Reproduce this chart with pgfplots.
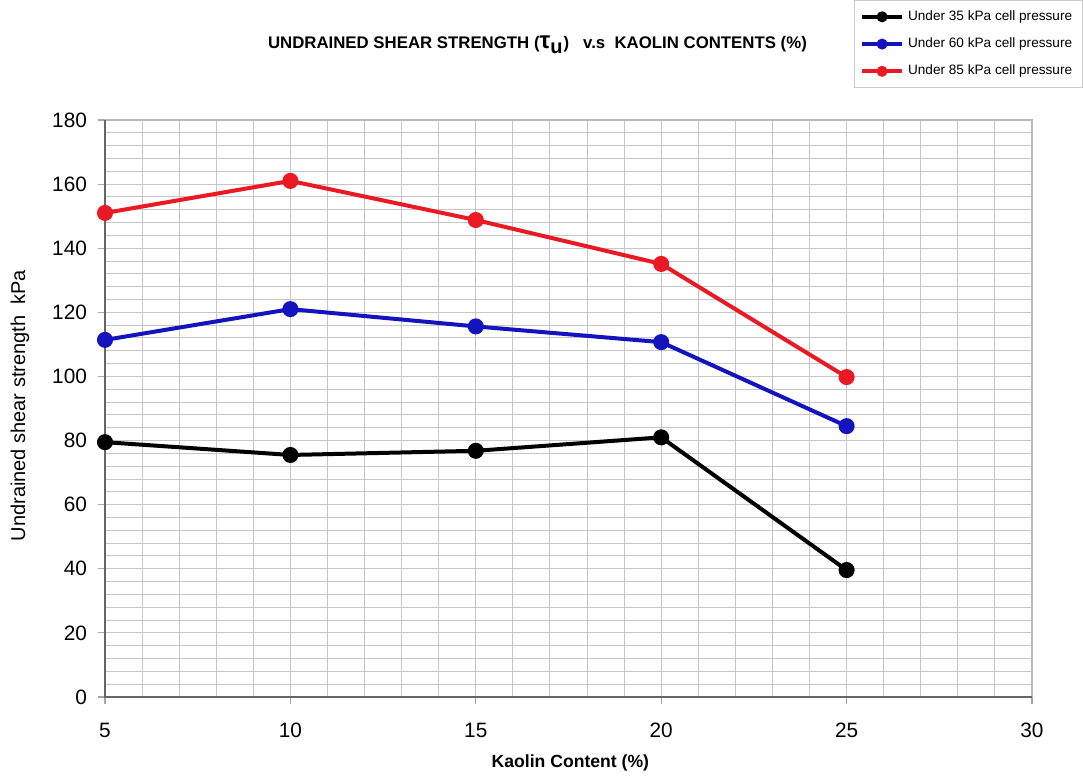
\documentclass[border=0pt]{standalone}
\usepackage{pgfplots}
\pgfplotsset{compat=1.18}
\usepackage{fontspec}
\setmainfont{Liberation Sans}
\definecolor{sred}{RGB}{235,25,35}
\definecolor{sblue}{RGB}{20,20,190}
\begin{document}
\begin{tikzpicture}
\useasboundingbox (0,0) rectangle (541.5pt,388pt);
\begin{axis}[
  at={(52.5pt,39.5pt)}, anchor=south west,
  scale only axis, width=463.5pt, height=288.5pt,
  xmin=5, xmax=30, ymin=0, ymax=180,
  xtick={5,10,15,20,25,30}, ytick={0,20,...,180},
  minor x tick num=4, minor y tick num=4,
  xtick pos=bottom, ytick pos=left,
  grid=both,
  major grid style={draw=gray!45, line width=0.5pt},
  minor grid style={draw=gray!45, line width=0.5pt},
  axis line style={draw=gray!55, line width=0.6pt},
  tick align=outside, major tick length=3.5pt, minor tick length=0pt,
  tick style={draw=gray!70, line width=0.6pt},
  ticklabel style={font=\fontsize{10.4}{12}\selectfont},
  xticklabel style={yshift=-6pt},
  yticklabel style={xshift=-2pt},
  /pgf/number format/assume math mode=true,
  xlabel={\textbf{Kaolin Content (\%)}},
  xlabel style={at={(axis description cs:0.502,-0.114)}, anchor=center, font=\fontsize{8.8}{10}\selectfont},
  ylabel={Undrained shear strength\ \ kPa},
  ylabel style={at={(axis description cs:-0.0917,0.505)}, anchor=center, font=\fontsize{10}{12}\selectfont},
  legend style={at={(axis description cs:1.0545,1.208)}, anchor=north east, draw=gray!40, font=\fontsize{6.8}{8}\selectfont, row sep=3.2pt, inner sep=3pt},
  legend cell align=left,
  legend image code/.code={
    \draw[#1, mark=none] (0pt,0pt) -- (20pt,0pt);
    \draw[#1, only marks, mark size=1.7pt] plot coordinates {(10pt,0pt)};
  },
  clip=false,
]
\addplot[black, line width=2pt, mark=*, mark size=3pt] coordinates {(5,79.5) (10,75.5) (15,76.8) (20,81) (25,39.6)};
\addlegendentry{Under 35 kPa cell pressure}
\addplot[sblue, line width=2pt, mark=*, mark size=3pt] coordinates {(5,111.4) (10,121) (15,115.6) (20,110.7) (25,84.5)};
\addlegendentry{Under 60 kPa cell pressure}
\addplot[sred, line width=2pt, mark=*, mark size=3pt] coordinates {(5,151) (10,161) (15,148.8) (20,135.1) (25,99.8)};
\addlegendentry{Under 85 kPa cell pressure}
\draw[gray!80!black, line width=1pt] (rel axis cs:0,1) -- (rel axis cs:0,0) -- (rel axis cs:1,0);
\node[font=\fontsize{8.4}{10}\selectfont\bfseries] at (axis description cs:0.4665,1.13) {UNDRAINED SHEAR STRENGTH ({\large τ}\textsubscript{\normalsize u})\ \ \ v.s\ \ KAOLIN CONTENTS (\%)};
\end{axis}
\end{tikzpicture}
\end{document}
